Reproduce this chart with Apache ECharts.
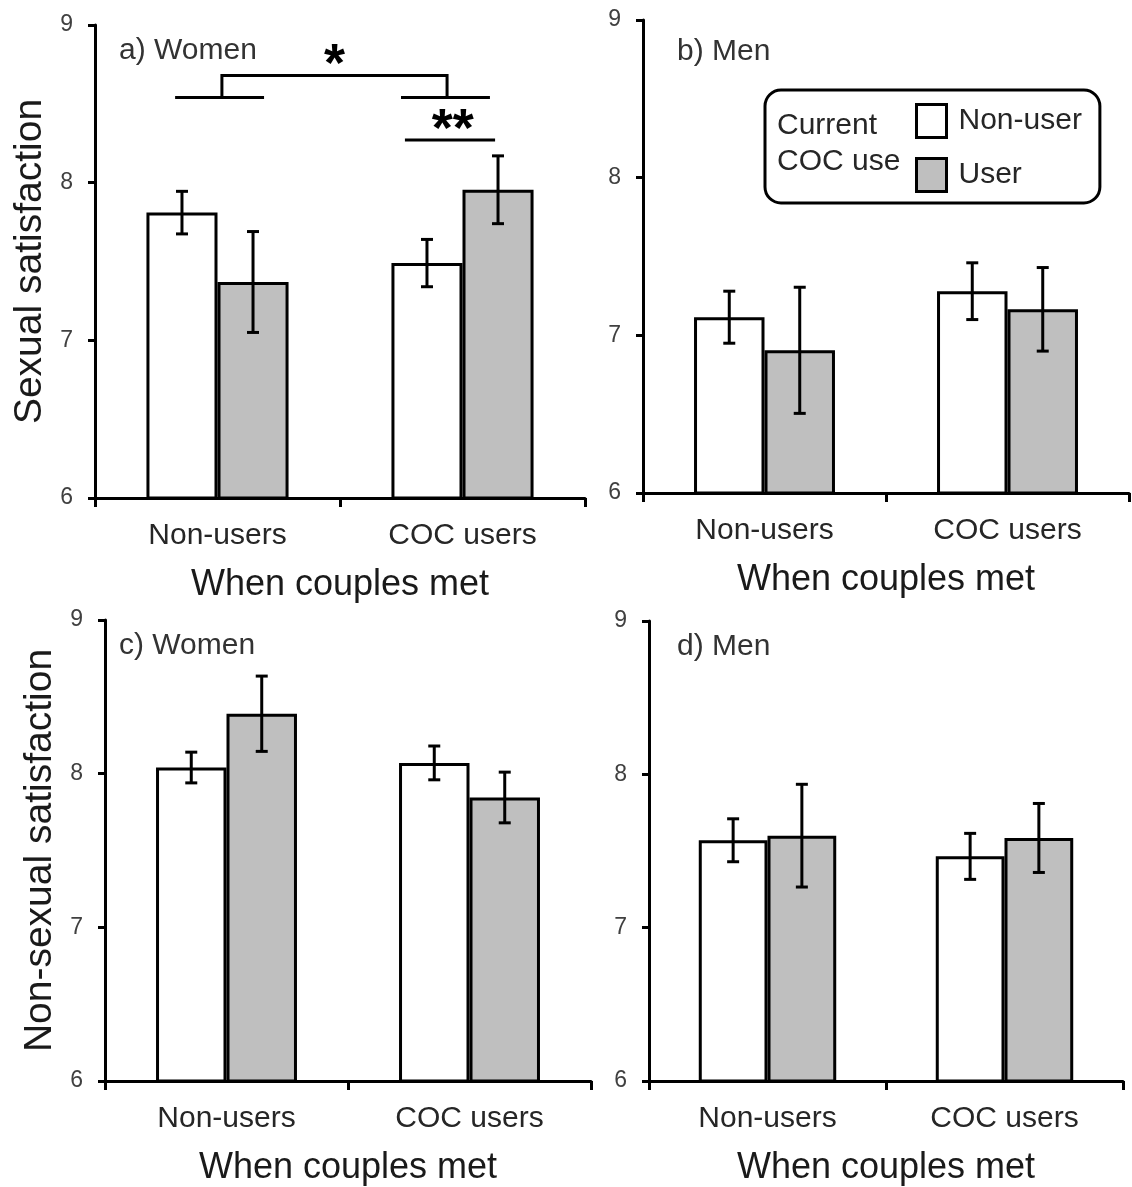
<!DOCTYPE html>
<html><head><meta charset="utf-8">
<script src="https://cdn.jsdelivr.net/npm/echarts@6/dist/echarts.min.js"></script>
<style>html,body{margin:0;padding:0;background:#fff}#c{width:1132px;height:1187px}</style>
</head><body><div id="c"></div>
<script>
// ---- data ----
const categories = ['Non-users', 'COC users'];
const yTicks = [6, 7, 8, 9];
const seriesNames = ['Non-user', 'User'];
// a) Women, sexual satisfaction
const aNonUser = [7.81, 7.49];
const aNonUserSE = [0.135, 0.15];
const aUser = [7.37, 7.955];
const aUserSE = [0.32, 0.215];
// b) Men, sexual satisfaction
const bNonUser = [7.115, 7.28];
const bNonUserSE = [0.165, 0.18];
const bUser = [6.905, 7.165];
const bUserSE = [0.40, 0.265];
// c) Women, non-sexual satisfaction
const cNonUser = [8.04, 8.07];
const cNonUserSE = [0.10, 0.11];
const cUser = [8.39, 7.845];
const cUserSE = [0.245, 0.165];
// d) Men, non-sexual satisfaction
const dNonUser = [7.57, 7.465];
const dNonUserSE = [0.14, 0.15];
const dUser = [7.60, 7.585];
const dUserSE = [0.335, 0.225];
const panelLabels = ['a) Women', 'b) Men', 'c) Women', 'd) Men'];
const yTitles = ['Sexual satisfaction', '', 'Non-sexual satisfaction', ''];
const xTitle = 'When couples met';
// significance annotation levels (panel a), in data units
const sigLevels = { groupLine: 8.54, bracketTop: 8.68, pairLine: 8.27, star1: 8.74, star2: 8.33 };
const sigTexts = ['*', '**'];

// ---- layout ----
const FONT = '"Liberation Sans", Arial, sans-serif';
const grids = [
  { left: 95, top: 25, width: 490, height: 473 },
  { left: 643, top: 20, width: 486, height: 473 },
  { left: 105, top: 620, width: 486, height: 463 },
  { left: 649, top: 621, width: 474, height: 460 }
];
const panels = [
  [aNonUser, aNonUserSE, aUser, aUserSE],
  [bNonUser, bNonUserSE, bUser, bUserSE],
  [cNonUser, cNonUserSE, cUser, cUserSE],
  [dNonUser, dNonUserSE, dUser, dUserSE]
];
const BARW = 0.29;
const fills = ['#ffffff', '#bfbfbf'];

const xAxes = [], yAxes = [], series = [], titles = [];
grids.forEach((g, i) => {
  xAxes.push({
    type: 'category', gridIndex: i, data: categories,
    axisLine: { lineStyle: { color: '#000', width: 3 } },
    axisTick: { show: true, length: 9, lineStyle: { color: '#000', width: 3 } },
    axisLabel: { fontSize: 30, color: '#262626', margin: 23, fontFamily: FONT },
    name: xTitle, nameLocation: 'middle', nameGap: 69,
    nameTextStyle: { fontSize: 36, color: '#1a1a1a', fontFamily: FONT }
  });
  yAxes.push({
    type: 'value', gridIndex: i, min: yTicks[0], max: yTicks[yTicks.length - 1], interval: 1,
    axisLine: { show: true, lineStyle: { color: '#000', width: 3 } },
    axisTick: { show: true, length: 7, lineStyle: { color: '#000', width: 3 } },
    splitLine: { show: false },
    axisLabel: { fontSize: 23, color: '#404040', margin: 22, fontFamily: FONT },
    name: yTitles[i], nameLocation: 'middle', nameGap: 45,
    nameTextStyle: { fontSize: 39, color: '#1a1a1a', fontFamily: FONT }
  });
  const p = panels[i];
  [0, 1].forEach(k => {
    series.push({
      type: 'bar', name: seriesNames[k], xAxisIndex: i, yAxisIndex: i,
      data: p[k * 2], barWidth: (BARW * 100) + '%', barGap: '0%',
      itemStyle: { color: fills[k], borderColor: '#000', borderWidth: 3 },
      emphasis: { disabled: true }, silent: true
    });
  });
  [0, 1].forEach(k => {
    const means = p[k * 2], se = p[k * 2 + 1];
    const sign = k === 0 ? -1 : 1;
    series.push({
      type: 'custom', name: 'err' + i + k, xAxisIndex: i, yAxisIndex: i, z: 5, silent: true,
      data: means.map((m, j) => [j, m - se[j], m + se[j]]),
      renderItem: function (params, api) {
        const idx = api.value(0);
        const band = api.size([1, 0])[0];
        const pLo = api.coord([idx, api.value(1)]);
        const pHi = api.coord([idx, api.value(2)]);
        const x = pLo[0] + sign * band * BARW / 2;
        const cap = 6;
        const st = { stroke: '#000', lineWidth: 3 };
        return {
          type: 'group', children: [
            { type: 'line', shape: { x1: x, y1: pLo[1], x2: x, y2: pHi[1] }, style: st },
            { type: 'line', shape: { x1: x - cap, y1: pHi[1], x2: x + cap, y2: pHi[1] }, style: st },
            { type: 'line', shape: { x1: x - cap, y1: pLo[1], x2: x + cap, y2: pLo[1] }, style: st }
          ]
        };
      }
    });
  });
  titles.push({
    text: panelLabels[i], left: g.left + (i % 2 === 0 ? 24 : 34) - (i === 2 ? 10 : 0) - (i === 3 ? 6 : 0),
    top: g.top + 11 + (i === 1 ? 6 : 0), padding: 0,
    textStyle: { fontSize: 30, fontWeight: 'normal', color: '#333', fontFamily: FONT }
  });
});

// significance annotation (panel a)
series.push({
  type: 'custom', name: 'sig', xAxisIndex: 0, yAxisIndex: 0, z: 6, silent: true,
  data: [[0, sigLevels.groupLine]],
  renderItem: function (params, api) {
    const band = api.size([1, 0])[0];
    const c0 = api.coord([0, sigLevels.groupLine]);
    const c1 = api.coord([1, sigLevels.groupLine]);
    const yG = c0[1];
    const yT = api.coord([0, sigLevels.bracketTop])[1];
    const yP = api.coord([1, sigLevels.pairLine])[1];
    const yS1 = api.coord([0, sigLevels.star1])[1];
    const yS2 = api.coord([1, sigLevels.star2])[1];
    const st = { stroke: '#000', lineWidth: 3, fill: null };
    const bx0 = c0[0] + 0.018 * band, bx1 = c1[0] - 0.063 * band;
    const starFont = 'bold 54px ' + FONT;
    return {
      type: 'group', children: [
        { type: 'line', shape: { x1: c0[0] - 0.173 * band, y1: yG, x2: c0[0] + 0.19 * band, y2: yG }, style: st },
        { type: 'line', shape: { x1: c1[0] - 0.251 * band, y1: yG, x2: c1[0] + 0.112 * band, y2: yG }, style: st },
        { type: 'polyline', shape: { points: [[bx0, yG], [bx0, yT], [bx1, yT], [bx1, yG]] }, style: st },
        { type: 'line', shape: { x1: c1[0] - 0.235 * band, y1: yP, x2: c1[0] + 0.133 * band, y2: yP }, style: st },
        { type: 'text', x: (bx0 + bx1) / 2, y: yS1, style: { text: sigTexts[0], font: starFont, fill: '#000', align: 'center', verticalAlign: 'middle' } },
        { type: 'text', x: c1[0] - 0.04 * band, y: yS2, style: { text: sigTexts[1], font: starFont, fill: '#000', align: 'center', verticalAlign: 'middle' } }
      ]
    };
  }
});

const chart = echarts.init(document.getElementById('c'), null, { renderer: 'canvas' });
chart.setOption({
  animation: false,
  backgroundColor: '#fff',
  textStyle: { fontFamily: FONT },
  title: titles,
  grid: grids,
  xAxis: xAxes,
  yAxis: yAxes,
  legend: {
    data: seriesNames, orient: 'vertical', left: 765, top: 90,
    padding: [13, 18, 10, 150], itemWidth: 30, itemHeight: 33, itemGap: 18,
    borderColor: '#000', borderWidth: 3, borderRadius: 16, backgroundColor: '#fff',
    icon: 'rect', selectedMode: false,
    itemStyle: { borderColor: '#000', borderWidth: 3 },
    textStyle: { fontSize: 30, color: '#262626', fontFamily: FONT, padding: [0, 0, 0, 7] }
  },
  graphic: [{
    type: 'text', left: 777, top: 108, z: 100,
    style: { text: 'Current\nCOC use', font: '30px ' + FONT, fill: '#262626', lineHeight: 36 }
  }],
  series: series
});
</script></body></html>
